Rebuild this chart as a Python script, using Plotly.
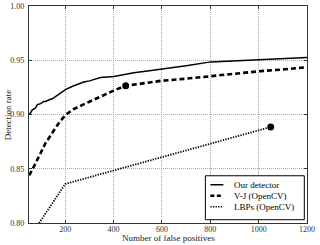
import plotly.graph_objects as go

# ---- data ----
ours_x = [50, 55, 63, 70, 77, 84, 98, 111, 118, 139, 146, 170, 201, 230, 277, 300, 346, 401, 450, 484, 540, 595, 700, 802, 900, 1009, 1100, 1200]
ours_y = [0.900, 0.901, 0.904, 0.905, 0.906, 0.909, 0.910, 0.912, 0.912, 0.914, 0.9145, 0.918, 0.923, 0.926, 0.930, 0.931, 0.934, 0.935, 0.937, 0.9385, 0.940, 0.9415, 0.945, 0.9485, 0.9495, 0.950, 0.951, 0.9525]

vj_x = [50, 56, 77, 98, 118, 146, 173, 201, 235, 263, 300, 346, 400, 450, 500, 595, 700, 802, 900, 1009, 1100, 1200]
vj_y = [0.844, 0.846, 0.855, 0.864, 0.8735, 0.883, 0.892, 0.8996, 0.905, 0.908, 0.912, 0.9165, 0.922, 0.9266, 0.928, 0.931, 0.933, 0.9355, 0.938, 0.940, 0.9415, 0.9435]

lbp_x = [50, 200, 1050]
lbp_y = [0.786, 0.836, 0.8885]

vj_point_x = [450]
vj_point_y = [0.9266]
lbp_point_x = [1050]
lbp_point_y = [0.8885]

legend_labels = ["Our detector", "V-J (OpenCV)", "LBPs (OpenCV)"]
x_title = "Number of false positives"
y_title = "Detection rate"
x_ticks = [200, 400, 600, 800, 1000, 1200]
y_ticks = [0.80, 0.85, 0.90, 0.95, 1.00]

FONT = "Liberation Serif"
L, R, T, B = 28.5, 306.7, 6.0, 223.3
PW, PH = R - L, B - T


def px(x):
    return (x - L) / PW


def py(y):
    return (B - y) / PH


fig = go.Figure()
fig.add_trace(go.Scatter(x=ours_x, y=ours_y, mode="lines",
                         line=dict(color="black", width=1.5), name=legend_labels[0]))
fig.add_trace(go.Scatter(x=vj_x, y=vj_y, mode="lines",
                         line=dict(color="black", width=2.6, dash="5px,3px"), name=legend_labels[1]))
fig.add_trace(go.Scatter(x=lbp_x, y=lbp_y, mode="lines",
                         line=dict(color="black", width=1.8, dash="1.3px,1.3px"), name=legend_labels[2]))
fig.add_trace(go.Scatter(x=vj_point_x, y=vj_point_y, mode="markers",
                         marker=dict(color="black", size=7), cliponaxis=False))
fig.add_trace(go.Scatter(x=lbp_point_x, y=lbp_point_y, mode="markers",
                         marker=dict(color="black", size=7), cliponaxis=False))

axis_common = dict(showline=True, linecolor="#333", linewidth=1.3, mirror="ticks",
                   ticks="inside", ticklen=3, tickcolor="#333", tickwidth=1,
                   showgrid=True, gridcolor="#aaa", gridwidth=1, griddash="1px,1px",
                   zeroline=False, automargin=False,
                   tickfont=dict(family=FONT, size=8, color="#333"))

fig.update_layout(
    width=320, height=245,
    margin=dict(l=L, r=320 - R, t=T, b=245 - B, autoexpand=False),
    paper_bgcolor="white", plot_bgcolor="white",
    showlegend=False,
    font=dict(family=FONT, color="#222"),
    xaxis=dict(range=[50, 1200], tickvals=x_ticks, ticktext=[str(v) for v in x_ticks],
               ticklabelstandoff=-2, **axis_common),
    yaxis=dict(range=[0.80, 1.00], tickvals=y_ticks, ticktext=["%.2f" % v for v in y_ticks],
               ticklabelstandoff=2, **axis_common),
)

# axis titles
fig.add_annotation(xref="paper", yref="paper", x=px(168), y=py(238.5), text=x_title,
                   showarrow=False, xanchor="center", yanchor="middle",
                   font=dict(family=FONT, size=9, color="#222"))
fig.add_annotation(xref="paper", yref="paper", x=px(7), y=py(115), text=y_title,
                   showarrow=False, xanchor="center", yanchor="middle", textangle=-90,
                   font=dict(family=FONT, size=9, color="#222"))

# manual legend box
fig.add_shape(type="rect", xref="paper", yref="paper",
              x0=px(205), x1=px(304), y0=py(220), y1=py(176),
              line=dict(color="black", width=1), fillcolor="white", layer="above")
styles = [dict(width=1.5), dict(width=2.6, dash="4px,2.5px"), dict(width=1.5, dash="1.3px,1.3px")]
ys = [185, 196, 207]
for lab, st, yy in zip(legend_labels, styles, ys):
    fig.add_shape(type="line", xref="paper", yref="paper",
                  x0=px(210), x1=px(223), y0=py(yy), y1=py(yy),
                  line=dict(color="black", **st), layer="above")
    fig.add_annotation(xref="paper", yref="paper", x=px(232), y=py(yy),
                       text=lab, showarrow=False, xanchor="left", yanchor="middle",
                       font=dict(family=FONT, size=9, color="black"))

fig.write_html("out.html", config={"displayModeBar": False},
               post_script="document.body.style.margin='0';document.body.style.overflow='hidden';")
